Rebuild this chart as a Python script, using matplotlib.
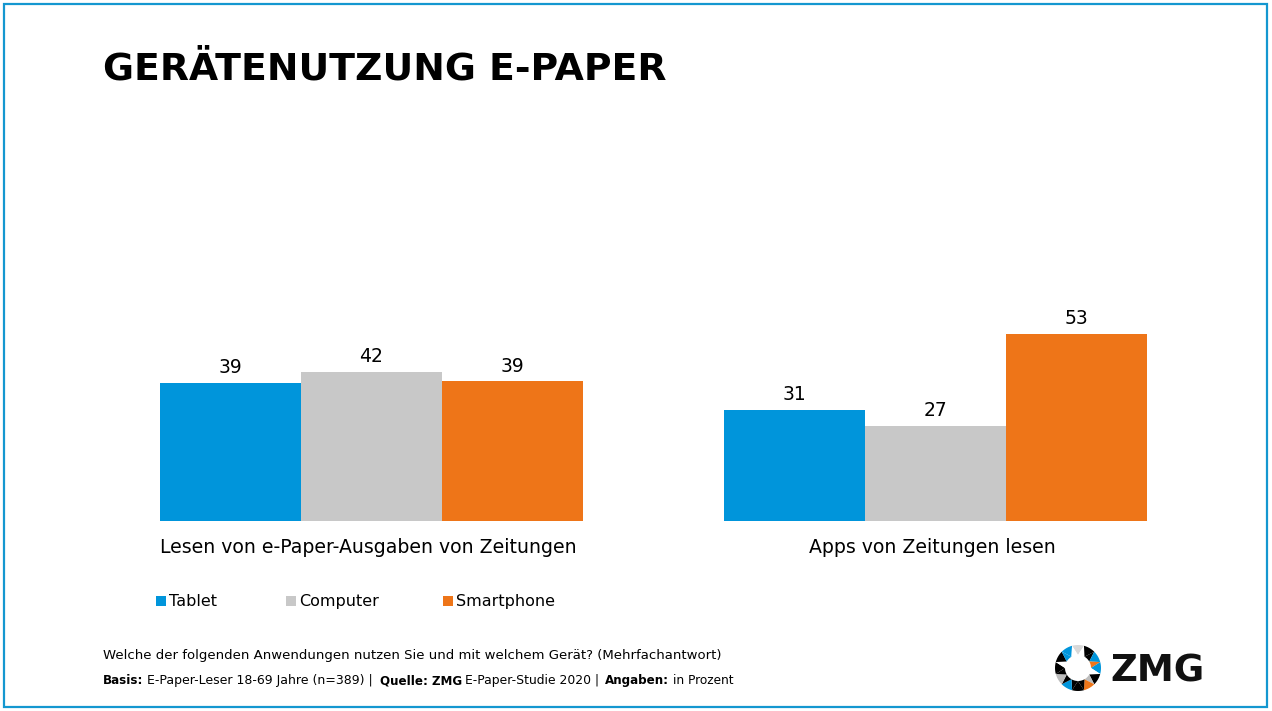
"""Geraetenutzung E-Paper: grouped bars with footer and logo."""

import matplotlib

matplotlib.use("Agg")
import matplotlib.pyplot as plt
import numpy as np
from matplotlib.patches import Polygon, Rectangle
from matplotlib.transforms import ScaledTranslation

WIDTH, HEIGHT = 1272, 711

groups = ["Lesen von e-Paper-Ausgaben von Zeitungen", "Apps von Zeitungen lesen"]
devices = ["Tablet", "Computer", "Smartphone"]
tablet = [38.9, 31.3]
computer = [42.0, 26.8]
smartphone = [39.4, 52.7]
tablet_labels = ["39", "31"]
computer_labels = ["42", "27"]
smartphone_labels = ["39", "53"]

BLUE = "#0095DB"
GREY = "#C8C8C8"
ORANGE = "#EE7518"
BORDER = "#1497D0"

plt.rcParams["font.family"] = ["DejaVu Sans"]


def px_axes(fig, left, top, right, bottom):
    return fig.add_axes([left / WIDTH, 1 - bottom / HEIGHT, (right - left) / WIDTH, (bottom - top) / HEIGHT])


fig = plt.figure(figsize=(WIDTH / 100, HEIGHT / 100), dpi=100, facecolor="white")

# pixel overlay for frame, title, footer and logo
bg = fig.add_axes([0, 0, 1, 1])
bg.set_xlim(0, WIDTH)
bg.set_ylim(HEIGHT, 0)
bg.axis("off")
bg.add_patch(Rectangle((4, 4), 1263, 703, fill=False, ec=BORDER, lw=1.6))
bg.text(103, 80, "GERÄTENUTZUNG E-PAPER", fontsize=27.2, fontweight="bold", color="black", va="baseline", ha="left")

# bars
ax = px_axes(fig, 160, 166, 1147, 521)
ax.set_xlim(-1.5, 5.5)
ax.set_ylim(0, 100)
x = np.array([0, 4])
for offset, values, labels, color in [
    (-1, tablet, tablet_labels, BLUE),
    (0, computer, computer_labels, GREY),
    (1, smartphone, smartphone_labels, ORANGE),
]:
    bars = ax.bar(x + offset, values, width=1.0, color=color)
    ax.bar_label(bars, labels=labels, padding=4, fontsize=13.5, color="black")
ax.set_xticks(x)
ax.set_xticklabels(groups, fontsize=13.6)
ax.tick_params(axis="x", length=0, pad=12)
shift = ScaledTranslation(-3.5 / 100, 0, fig.dpi_scale_trans)
for label in ax.get_xticklabels():
    label.set_transform(label.get_transform() + shift)
ax.set_yticks([])
for spine in ax.spines.values():
    spine.set_visible(False)
ax.patch.set_alpha(0)

# legend drawn by hand to keep the wide spacing
for name, color, sx in zip(devices, [BLUE, GREY, ORANGE], [156, 286, 443]):
    bg.add_patch(Rectangle((sx, 596), 9.5, 9.5, fc=color, ec="none"))
    bg.text(sx + 13, 606, name, fontsize=11.5, va="baseline", ha="left")

# footer
bg.text(103, 655, "Welche der folgenden Anwendungen nutzen Sie und mit welchem Gerät? (Mehrfachantwort)",
        fontsize=9.57, va="center", ha="left")
for part, weight, size, start in [
    ("Basis:", "bold", 8.6, 103),
    ("E-Paper-Leser 18-69 Jahre (n=389) |", "normal", 9.0, 147),
    ("Quelle: ZMG", "bold", 8.6, 380),
    ("E-Paper-Studie 2020 |", "normal", 8.9, 465),
    ("Angaben:", "bold", 8.6, 605),
    ("in Prozent", "normal", 8.7, 673),
]:
    bg.text(start, 684, part, fontsize=size, fontweight=weight, va="baseline", ha="left")

# logo ring, clockwise from the top
cx, cy = 1078, 668
r_out, r_in = 23, 13
outer = ["#D8D8D8", "black", BLUE, BLUE, "black", ORANGE, "black", BLUE, "#BDBDBD", "black", "black", BLUE]
inner = ["white", "black", ORANGE, "white", "#BDBDBD", "black", "black", "black", "black", "white", BLUE, "white"]


def polar(radius, deg):
    return cx + radius * np.sin(np.radians(deg)), cy - radius * np.cos(np.radians(deg))


for i, (c_out, c_in) in enumerate(zip(outer, inner)):
    ang = i * 30
    # outward triangle plus its circular cap
    arc = [polar(r_out, a) for a in np.linspace(ang - 15, ang + 15, 7)]
    bg.add_patch(Polygon(arc + [polar(r_in, ang)], fc=c_out, ec="none"))
    # inward triangle, base on the inner circle
    arc = [polar(r_in, a) for a in np.linspace(ang, ang + 30, 7)]
    bg.add_patch(Polygon(arc + [polar(r_out, ang + 15)], fc=c_in, ec="none"))
bg.text(1157, 681, "ZMG", fontsize=26.7, fontweight="bold", va="baseline", ha="center", color="#111111")

fig.savefig("out.png", dpi=100)
plt.close(fig)
